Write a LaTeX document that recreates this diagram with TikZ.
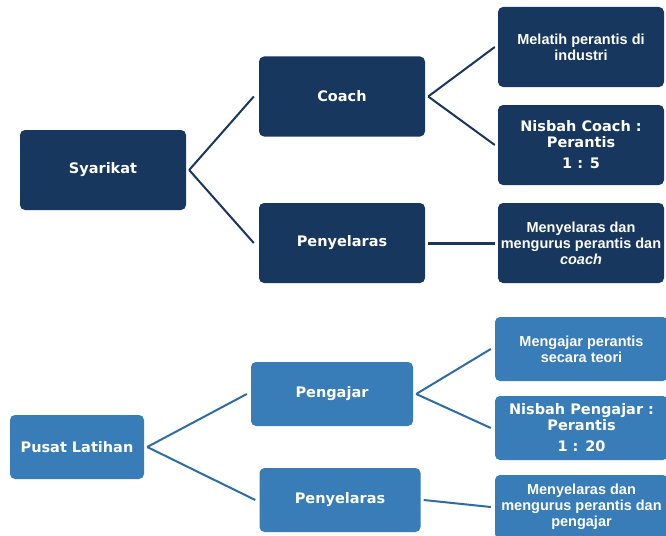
\documentclass[tikz,border=0pt]{standalone}
\usepackage{fontspec}
\setmainfont{DejaVu Sans}
\newfontfamily\arialf{Liberation Sans}
\definecolor{navy}{HTML}{17375E}
\definecolor{lblue}{HTML}{387CB8}
\definecolor{lline}{HTML}{2F6CA3}
\begin{document}
\begin{tikzpicture}[x=1pt,y=-1pt,
  box/.style={rounded corners=5pt, inner sep=0pt, align=center, text=white,
    font=\bfseries\fontsize{14.5}{16}\selectfont},
  dbox/.style={box, fill=navy, minimum width=166pt, minimum height=80pt},
  lbox/.style={box, fill=lblue, minimum height=64pt},
  ar/.style={font=\arialf\bfseries\fontsize{14.5}{16}\selectfont},
  dconn/.style={draw=navy, line width=2pt},
  lconn/.style={draw=lline, line width=2pt}]
\useasboundingbox (0,0) rectangle (666,535);
\fill[white] (0,0) rectangle (666,535);
% top tree
\node[dbox] (syar) at (103,170) {Syarikat};
\node[dbox] (coach) at (342,96.5) {Coach};
\node[dbox] (peny1) at (342,243) {Penyelaras};
\node[dbox, ar] (melatih) at (581,47) {Melatih perantis di\\industri};
\node[dbox] (nisbah1) at (581,145) {Nisbah Coach :\\Perantis\\[5pt]1 : 5};
\node[dbox, ar] (meny1) at (581,243) {Menyelaras dan\\mengurus perantis dan\\\textit{coach}};
\draw[dconn] ([xshift=3pt]syar.east) -- ([xshift=-5pt]coach.west);
\draw[dconn] ([xshift=3pt]syar.east) -- ([xshift=-5pt]peny1.west);
\draw[dconn] ([xshift=3pt]coach.east) -- ([xshift=-3pt]melatih.west);
\draw[dconn] ([xshift=3pt]coach.east) -- ([xshift=-3pt]nisbah1.west);
\draw[dconn, line width=3pt] ([xshift=3pt]peny1.east) -- ([xshift=-3pt]meny1.west);
% bottom tree
\node[lbox, minimum width=134pt] (pusat) at (77,447) {Pusat Latihan};
\node[lbox, minimum width=162pt] (pengajar) at (332,394) {Pengajar};
\node[lbox, minimum width=161pt] (peny2) at (340,500) {Penyelaras};
\node[lbox, minimum width=173pt, ar] (mengajar) at (581.5,349) {Mengajar perantis\\secara teori};
\node[lbox, minimum width=173pt] (nisbah2) at (581.5,428) {Nisbah Pengajar :\\Perantis\\[5pt]1 : 20};
\node[lbox, minimum width=173pt, ar] (meny2) at (581.5,507) {Menyelaras dan\\mengurus perantis dan\\pengajar};
\draw[lconn] ([xshift=3pt]pusat.east) -- ([xshift=-4pt]pengajar.west);
\draw[lconn] ([xshift=3pt]pusat.east) -- ([xshift=-4pt]peny2.west);
\draw[lconn] ([xshift=3pt]pengajar.east) -- ([xshift=-4pt]mengajar.west);
\draw[lconn] ([xshift=3pt]pengajar.east) -- ([xshift=-4pt]nisbah2.west);
\draw[lconn] ([xshift=3pt]peny2.east) -- ([xshift=-4pt]meny2.west);
\end{tikzpicture}
\end{document}
